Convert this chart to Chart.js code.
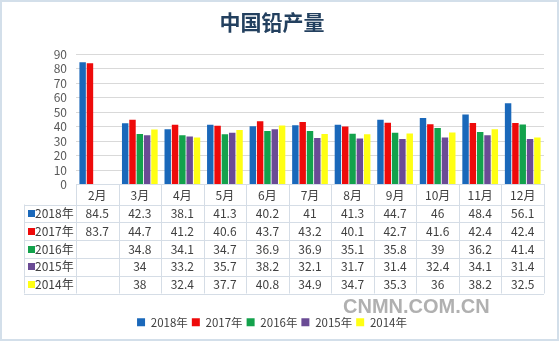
<!DOCTYPE html>
<html><head><meta charset="utf-8">
<script src="https://cdn.jsdelivr.net/npm/chart.js@4/dist/chart.umd.min.js"></script>
<style>html,body{margin:0;padding:0;background:#fff}canvas{display:block}</style>
</head><body>
<canvas id="c" width="559" height="341" style="width:559px;height:341px"></canvas>
<script>
const months = ['2月','3月','4月','5月','6月','7月','8月','9月','10月','11月','12月'];
const seriesNames = ['2018年','2017年','2016年','2015年','2014年'];
const s2018 = [84.5, 42.3, 38.1, 41.3, 40.2, 41, 41.3, 44.7, 46, 48.4, 56.1];
const s2017 = [83.7, 44.7, 41.2, 40.6, 43.7, 43.2, 40.1, 42.7, 41.6, 42.4, 42.4];
const s2016 = [null, 34.8, 34.1, 34.7, 36.9, 36.9, 35.1, 35.8, 39, 36.2, 41.4];
const s2015 = [null, 34, 33.2, 35.7, 38.2, 32.1, 31.7, 31.4, 32.4, 34.1, 31.4];
const s2014 = [null, 38, 32.4, 37.7, 40.8, 34.9, 34.7, 35.3, 36, 38.2, 32.5];
const yTicks = [0,10,20,30,40,50,60,70,80,90];
const watermark = 'CNMN.COM.CN';

const seriesData = [s2018, s2017, s2016, s2015, s2014];
const colors = ['#1A68BA', '#EE0A0A', '#13A24C', '#6A4B95', '#FFFF14'];
const FONT = '"Noto Sans CJK SC", "Noto Sans", sans-serif';
const TEXT = '#404040';
const LINE = '#d5dde6';

const fmt = v => (v === null || v === undefined) ? '' : String(v);

const bgPlugin = {
  id: 'bg',
  beforeDraw(chart) {
    const ctx = chart.ctx;
    ctx.save();
    ctx.fillStyle = '#ffffff';
    ctx.fillRect(0, 0, chart.width, chart.height);
    ctx.restore();
  },
  afterDraw(chart) {
    const ctx = chart.ctx;
    ctx.save();
    ctx.strokeStyle = '#d3dfea';
    ctx.lineWidth = 2;
    ctx.strokeRect(1, 1, chart.width - 2, chart.height - 2);
    ctx.font = 'bold 20px "Liberation Sans", Arial, sans-serif';
    ctx.fillStyle = 'rgba(150,150,150,0.75)';
    ctx.textAlign = 'left';
    ctx.textBaseline = 'middle';
    ctx.fillText(watermark, 343, 307);
    ctx.restore();
  }
};

const tablePlugin = {
  id: 'dataTable',
  afterDraw(chart) {
    const ctx = chart.ctx;
    const x = chart.scales.x;
    const n = months.length;
    const w = (x.right - x.left) / n;
    const top = chart.chartArea.bottom;
    const headerH = 20, rowH = 17.8;
    const tableLeft = 24;
    const bottom = top + headerH + rowH * seriesNames.length;
    ctx.save();
    ctx.strokeStyle = LINE;
    ctx.lineWidth = 1;
    ctx.beginPath();
    for (let i = 0; i <= n; i++) {
      const xx = Math.round(x.left + i * w) + 0.5;
      ctx.moveTo(xx, top); ctx.lineTo(xx, bottom);
    }
    const lx = tableLeft + 0.5;
    ctx.moveTo(lx, top + headerH); ctx.lineTo(lx, bottom);
    for (let r = 0; r <= seriesNames.length; r++) {
      const yy = Math.round(top + headerH + r * rowH) + 0.5;
      ctx.moveTo(tableLeft, yy); ctx.lineTo(x.right, yy);
    }
    ctx.stroke();
    ctx.font = '12px ' + FONT;
    ctx.textBaseline = 'middle';
    for (let r = 0; r < seriesNames.length; r++) {
      const cy = top + headerH + (r + 0.5) * rowH;
      ctx.fillStyle = colors[r];
      ctx.fillRect(28, Math.round(cy - 3.5), 7, 7);
      ctx.fillStyle = TEXT;
      ctx.textAlign = 'left';
      ctx.fillText(seriesNames[r], 35, cy);
      ctx.textAlign = 'center';
      seriesData[r].forEach((v, i) => {
        if (v === null) return;
        ctx.fillText(fmt(v), x.getPixelForValue(i), cy);
      });
    }
    ctx.restore();
  }
};

new Chart(document.getElementById('c'), {
  type: 'bar',
  data: {
    labels: months,
    datasets: seriesNames.map((name, k) => ({
      label: name,
      data: seriesData[k],
      backgroundColor: colors[k],
      borderWidth: 0,
      categoryPercentage: 0.86,
      barPercentage: 0.88
    }))
  },
  options: {
    responsive: false,
    animation: false,
    devicePixelRatio: 1,
    layout: { padding: { left: 0, right: 15, top: 0, bottom: 3 } },
    plugins: {
      title: {
        display: true,
        text: '中国铅产量',
        color: '#23405F',
        font: { family: FONT, size: 21, weight: 'bold' },
        padding: { top: 9, bottom: 20 }
      },
      legend: {
        position: 'bottom',
        labels: {
          boxWidth: 8, boxHeight: 8,
          color: TEXT,
          font: { family: FONT, size: 11.5 },
          padding: 4
        }
      },
      tooltip: { enabled: false }
    },
    scales: {
      x: {
        grid: { display: false, drawTicks: false },
        border: { display: true, color: LINE },
        ticks: { color: TEXT, font: { family: FONT, size: 12 }, padding: 4, maxRotation: 0 },
        afterFit(scale) { scale.height = 128; }
      },
      y: {
        min: 0, max: 90,
        afterBuildTicks(scale) { scale.ticks = yTicks.map(v => ({ value: v })); },
        grid: { color: '#d9d9d9', drawTicks: false },
        border: { display: false },
        ticks: { color: '#595959', font: { family: FONT, size: 12 }, padding: 9, autoSkip: false, stepSize: 10 },
        afterFit(scale) { scale.width = 76; }
      }
    }
  },
  plugins: [bgPlugin, tablePlugin]
});
</script>
</body></html>
